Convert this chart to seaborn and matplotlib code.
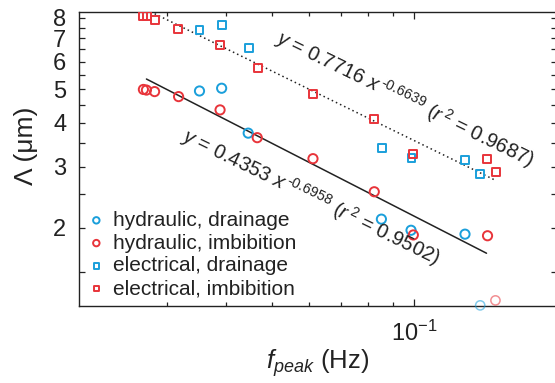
import numpy as np
import pandas as pd
import matplotlib
matplotlib.use("Agg")
import matplotlib.pyplot as plt
from matplotlib.ticker import FixedLocator, NullFormatter, FixedFormatter
import seaborn as sns

# Peak frequency (Hz) and length scale Lambda (um) for each method / process
hyd_dra_x = [0.0352, 0.0392, 0.0446, 0.0852, 0.0984, 0.1279]
hyd_dra_y = [4.94, 5.03, 3.74, 2.12, 1.97, 1.92]

hyd_imb_x = [0.0268, 0.0272, 0.0283, 0.0318, 0.0389, 0.0466, 0.0611, 0.0823, 0.0995, 0.1427]
hyd_imb_y = [4.99, 4.97, 4.92, 4.76, 4.36, 3.63, 3.16, 2.54, 1.91, 1.90]

ele_dra_x = [0.0352, 0.0392, 0.0447, 0.0853, 0.0986, 0.1279, 0.1377]
ele_dra_y = [7.40, 7.62, 6.57, 3.40, 3.18, 3.13, 2.86]

ele_imb_x = [0.0268, 0.0273, 0.0283, 0.0317, 0.0389, 0.0467, 0.0611, 0.0823, 0.0995, 0.1423, 0.1486]
ele_imb_y = [8.12, 8.10, 7.89, 7.45, 6.70, 5.75, 4.85, 4.11, 3.26, 3.15, 2.89]

# hydraulic points lying at the lower edge of the plotted range
hyd_dra_low_x, hyd_dra_low_y = [0.1377], [1.20]
hyd_imb_low_x, hyd_imb_low_y = [0.1483], [1.24]

# power-law fits  y = a * x**b
hyd_fit = dict(a=0.4353, b=-0.6958, r2=0.9502)
ele_fit = dict(a=0.7716, b=-0.6639, r2=0.9687)
hyd_fit_range = [0.0272, 0.142]
ele_fit_range = [0.0272, 0.148]

labels = ["hydraulic, drainage", "hydraulic, imbibition",
          "electrical, drainage", "electrical, imbibition"]
y_major = [2, 3, 4, 5, 6, 7, 8]
y_minor = [1.5, 2.5, 3.5, 4.5, 5.5, 6.5, 7.5]
x_major = [0.1]
x_major_labels = [r"$\mathregular{10^{-1}}$"]
x_minor = [0.03, 0.04, 0.05, 0.06, 0.07, 0.08, 0.09]

BLUE = "#1a9fdb"
RED = "#e8343a"
INK = "#222222"

sns.set_style("ticks")
plt.rcParams["font.family"] = ["Liberation Sans", "DejaVu Sans"]
plt.rcParams["mathtext.fontset"] = "custom"
plt.rcParams["mathtext.rm"] = "Liberation Sans"
plt.rcParams["mathtext.it"] = "Liberation Sans:italic"
plt.rcParams["mathtext.bf"] = "Liberation Sans:bold"

fig = plt.figure(figsize=(5.55, 3.83), dpi=100)
ax = fig.add_axes([79 / 555, 77 / 383, 478 / 555, 294 / 383])
ax.set_xscale("log")
ax.set_yscale("log")

series = [
    (hyd_dra_x, hyd_dra_y, "o", BLUE, 44, labels[0]),
    (hyd_imb_x, hyd_imb_y, "o", RED, 44, labels[1]),
    (ele_dra_x, ele_dra_y, "s", BLUE, 32, labels[2]),
    (ele_imb_x, ele_imb_y, "s", RED, 32, labels[3]),
]
for xs, ys, mk, col, size, lab in series:
    df = pd.DataFrame({"f": xs, "L": ys})
    sns.scatterplot(data=df, x="f", y="L", marker=mk, s=size, color=col,
                    facecolor="none", edgecolor=col, linewidth=1.4,
                    label=lab, ax=ax, zorder=3)

for xs, ys, col in [(hyd_dra_low_x, hyd_dra_low_y, BLUE),
                    (hyd_imb_low_x, hyd_imb_low_y, RED)]:
    sns.scatterplot(x=xs, y=ys, marker="o", s=44, color=col, facecolor="none",
                    edgecolor=col, linewidth=1.1, alpha=0.55, clip_on=False,
                    ax=ax, zorder=3, legend=False)

# fitted power laws
for fit, rng, ls in [(hyd_fit, hyd_fit_range, "-"), (ele_fit, ele_fit_range, (0, (1.0, 2.0)))]:
    fx = np.array(rng)
    fy = fit["a"] * fx ** fit["b"]
    sns.lineplot(x=fx, y=fy, color=INK, linewidth=1.1, linestyle=ls, ax=ax,
                 legend=False, zorder=2)

ax.set_xlim(0.0196, 0.2)
ax.set_ylim(1.195, 8.32)

ax.yaxis.set_major_locator(FixedLocator(y_major))
ax.yaxis.set_major_formatter(FixedFormatter([str(v) for v in y_major]))
ax.yaxis.set_minor_locator(FixedLocator(y_minor))
ax.yaxis.set_minor_formatter(NullFormatter())
ax.xaxis.set_major_locator(FixedLocator(x_major))
ax.xaxis.set_major_formatter(FixedFormatter(x_major_labels))
ax.xaxis.set_minor_locator(FixedLocator(x_minor))
ax.xaxis.set_minor_formatter(NullFormatter())

ax.tick_params(which="both", direction="in", top=True, right=True,
               color=INK, width=0.9, labelcolor=INK)
ax.tick_params(axis="y", which="both", length=4.5, labelsize=17, pad=9)
ax.tick_params(axis="x", which="major", length=5, labelsize=17, pad=10.5)
ax.tick_params(axis="x", which="minor", length=3)
for sp in ax.spines.values():
    sp.set_color(INK)
    sp.set_linewidth(1.0)

ax.set_xlabel(r"$f_{peak}$ (Hz)", fontsize=18.5, color=INK)
ax.set_ylabel("Λ (μm)", fontsize=19, color=INK)
ax.xaxis.set_label_coords(0.5, -0.139)
ax.yaxis.set_label_coords(-0.086, 0.545)

def fit_label(fit):
    return (r"$y$ = " + f"{fit['a']:.4f} " + r"$x^{\,\text{-" + f"{-fit['b']:.4f}" + r"}}$"
            + r" ($r^{\,2}$ = " + f"{fit['r2']:.4f})")

ax.text(0.682, 0.704, fit_label(ele_fit), transform=ax.transAxes, rotation=-26,
        rotation_mode="anchor", ha="center", va="center", fontsize=14.5, color=INK)
ax.text(0.485, 0.372, fit_label(hyd_fit), transform=ax.transAxes, rotation=-26,
        rotation_mode="anchor", ha="center", va="center", fontsize=14.5, color=INK)

ax.legend(loc="lower left", bbox_to_anchor=(0.021, 0.027), frameon=False,
          fontsize=15, markerscale=0.7, handlelength=0.7, handletextpad=0.45,
          labelspacing=0.18, borderaxespad=0, borderpad=0, labelcolor=INK)

fig.savefig("out.png", dpi=100)
